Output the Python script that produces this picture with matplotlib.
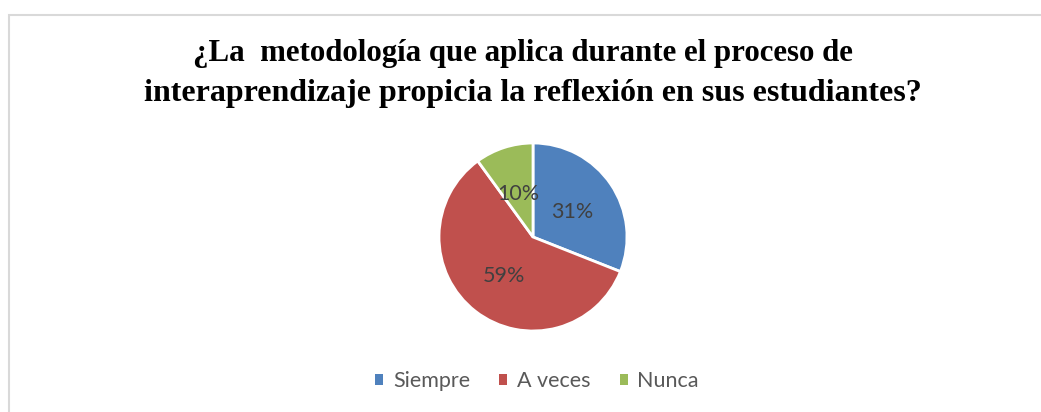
import matplotlib
matplotlib.use('Agg')
import matplotlib.pyplot as plt
from matplotlib.patches import Rectangle, Patch

# Data
labels = ['Siempre', 'A veces', 'Nunca']
values = [31, 59, 10]
colors = ['#4f81bd', '#c0504d', '#9bbb59']

title_line1 = '¿La  metodología que aplica durante el proceso de'
title_line2 = 'interaprendizaje propicia la reflexión en sus estudiantes?'

W, H = 1041, 412
fig = plt.figure(figsize=(W / 100, H / 100), dpi=100)
fig.patch.set_facecolor('white')

# chart frame (light gray, top-left visible)
fig.patches.append(Rectangle((9 / W, -0.1), 1.2, 1 - 15 / H + 0.1,
                             transform=fig.transFigure, fill=False,
                             edgecolor='#d9d9d9', linewidth=1.5))

# Title
tfont = dict(family='Liberation Serif', fontweight='bold',
             color='black', ha='center', va='center')
fig.text(523 / W, 1 - 54 / H, title_line1, fontsize=22.2, **tfont)
fig.text(533 / W, 1 - 94 / H, title_line2, fontsize=23, **tfont)

# Pie
cx, cy, r = 533, 237, 94
ax = fig.add_axes([(cx - r) / W, (H - cy - r) / H, 2 * r / W, 2 * r / H])
total = sum(values)
wedges, _, autotexts = ax.pie(values, colors=colors, startangle=90,
                              counterclock=False,
                              autopct=lambda p: f'{round(p * total / 100)}%',
                              pctdistance=0.5,
                              wedgeprops=dict(edgecolor='white', linewidth=2))
for t in autotexts:
    t.set_fontsize(15.5)
    t.set_color('#404040')
    t.set_family('Lato')
    x, y = t.get_position()
    t.set_position((x, y - 0.02))
ax.set_xlim(-1, 1)
ax.set_ylim(-1, 1)
ax.set_aspect('equal')
ax.axis('off')

# Legend
handles = [Patch(facecolor=c, edgecolor='none') for c in colors]
fig.legend(handles, labels, loc='center', bbox_to_anchor=(537 / W, 1 - 381 / H),
           ncol=3, frameon=False, handlelength=0.38, handleheight=0.38,
           handletextpad=0.45, columnspacing=1.35,
           prop=dict(family='Lato', size=15.5), labelcolor='#595959')

fig.savefig('out.png', dpi=100)
